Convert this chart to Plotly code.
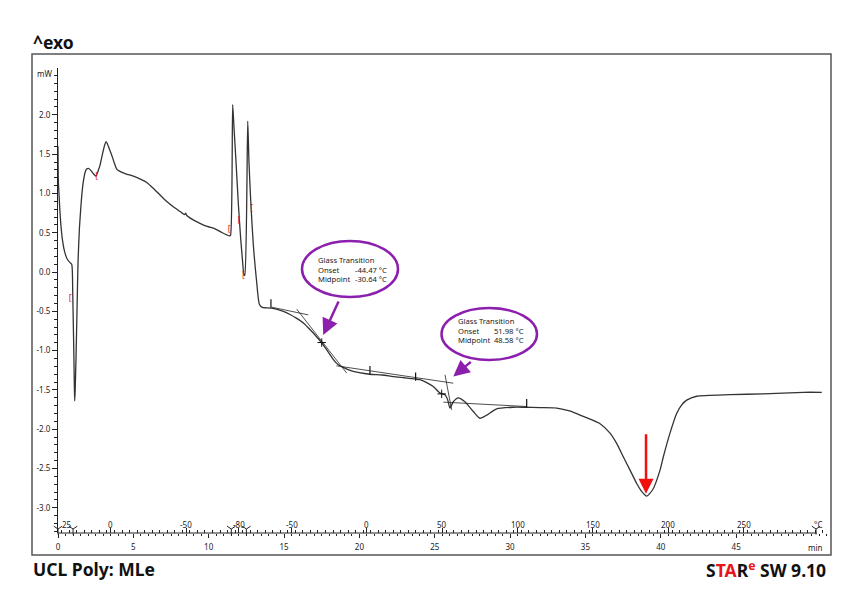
import plotly.graph_objects as go

# ---------------- data ----------------
time_min = [0.00, 0.02, 0.05, 0.13, 0.20, 0.31, 0.45, 0.60, 0.80, 0.91,
            0.95, 0.98, 1.03, 1.06, 1.09, 1.11, 1.14, 1.19, 1.26, 1.33,
            1.42, 1.51, 1.60, 1.68, 1.80, 1.90, 2.01, 2.15, 2.35, 2.52,
            2.65, 2.79, 2.95, 3.10, 3.19, 3.28, 3.40, 3.56, 3.75, 3.90,
            4.11, 4.50, 5.00, 5.50, 5.89, 6.30, 6.77, 7.20, 7.65, 8.10,
            8.40, 8.47, 8.55, 9.00, 9.42, 9.90, 10.42, 10.90, 11.38, 11.45,
            11.59, 11.68, 11.81, 11.97, 12.12, 12.25, 12.34, 12.39, 12.59, 12.67,
            12.79, 12.96, 13.18, 13.36, 13.55, 13.80, 14.18, 14.95, 15.40, 15.84,
            16.30, 16.72, 17.10, 17.50, 17.80, 18.05, 18.30, 18.60, 19.00, 19.38,
            20.00, 20.70, 21.50, 22.25, 23.00, 23.69, 24.02, 24.40, 24.90, 25.35,
            25.68, 25.85, 26.01, 26.23, 26.56, 27.00, 27.56, 28.00, 28.45, 29.11,
            30.21, 30.88, 32.00, 33.09, 34.00, 34.64, 35.30, 35.97, 36.63, 37.07,
            37.51, 37.96, 38.40, 38.73, 39.06, 39.46, 39.95, 40.17, 40.61, 41.05,
            41.39, 41.72, 42.38, 44.59, 46.80, 49.46, 50.68]
heat_flow_mw = [1.60, 1.19, 1.05, 0.77, 0.58, 0.39, 0.25, 0.17, 0.12, 0.10,
                0.02, -0.29, -0.80, -1.14, -1.50, -1.64, -1.50, -1.14, -0.50, 0.13,
                0.55, 0.81, 1.02, 1.15, 1.27, 1.31, 1.32, 1.30, 1.25, 1.22,
                1.28, 1.36, 1.50, 1.62, 1.66, 1.63, 1.57, 1.49, 1.38, 1.31,
                1.28, 1.25, 1.22, 1.18, 1.14, 1.07, 0.98, 0.90, 0.83, 0.77,
                0.73, 0.75, 0.72, 0.66, 0.62, 0.58, 0.55, 0.50, 0.46, 0.47,
                2.13, 1.83, 1.41, 0.86, 0.43, 0.13, -0.04, -0.04, 1.92, 1.41,
                0.90, 0.35, -0.12, -0.41, -0.45, -0.455, -0.46, -0.50, -0.54, -0.59,
                -0.65, -0.73, -0.81, -0.90, -0.98, -1.05, -1.12, -1.18, -1.22, -1.25,
                -1.28, -1.30, -1.31, -1.33, -1.345, -1.36, -1.37, -1.40, -1.457, -1.54,
                -1.56, -1.62, -1.73, -1.65, -1.60, -1.65, -1.775, -1.86, -1.82, -1.74,
                -1.72, -1.72, -1.725, -1.73, -1.77, -1.82, -1.87, -1.93, -2.05, -2.18,
                -2.35, -2.52, -2.69, -2.79, -2.85, -2.77, -2.52, -2.35, -2.05, -1.80,
                -1.69, -1.63, -1.58, -1.56, -1.55, -1.53, -1.53]

# glass-transition tangent lines (time, mW pairs)
tangent_t = [[14.18, 16.61], [15.84, 19.16], [18.48, 26.23], [25.68, 26.12], [25.57, 31.10]]
tangent_mw = [[-0.447, -0.545], [-0.472, -1.286], [-1.193, -1.414], [-1.308, -1.753], [-1.655, -1.711]]

# evaluation limit marks and midpoints
limit_t = [14.13, 20.70, 23.73, 31.10]
limit_mw = [-0.40, -1.25, -1.33, -1.67]
midpoint_t = [17.50, 25.46]
midpoint_mw = [-0.897, -1.55]

# red integration marks
red_t = [0.80, 2.57, 11.35, 12.01, 12.30, 12.85]
red_mw = [-0.341, 1.215, 0.537, 0.651, -0.045, 0.800]

# peak arrow
peak_t = 39.02
peak_mw = -2.82

# axes
min_ticks = [0, 5, 10, 15, 20, 25, 30, 35, 40, 45]
temp_tick_t = [0.0, 3.5, 8.5, 12.0, 15.5, 20.5, 25.5, 30.5, 35.5, 40.5, 45.5]
temp_tick_labels = ["25", "0", "-50", "-80", "-50", "0", "50", "100", "150", "200", "250"]
segment_t = [0.0, 1.0, 11.5, 12.5, 50.3]
y_ticks = [-3.0, -2.5, -2.0, -1.5, -1.0, -0.5, 0.0, 0.5, 1.0, 1.5, 2.0]

gt1_text = ["Glass Transition", "Onset", "Midpoint"]
gt1_vals = ["-44.47 °C", "-30.64 °C"]
gt2_text = ["Glass Transition", "Onset", "Midpoint"]
gt2_vals = ["51.98 °C", "48.58 °C"]

# ---------------- layout geometry ----------------
W, H = 861, 610
L, R, T, B = 58, 34, 68, 77
PW, PH = W - L - R, H - T - B
PX_PER_MIN = 15.07
PX_PER_MW = 78.6
X_MAX = PW / PX_PER_MIN
Y_MIN = -3.32
Y_MAX = Y_MIN + PH / PX_PER_MW


def px(xp):
    return (xp - L) / PW


def py(yp):
    return (H - B - yp) / PH


FONT = "Noto Sans"
SMALL = dict(family=FONT, size=8, color="#222")
BUB = dict(family=FONT, size=7.6, color="#222")
PURPLE = "#8c1fae"
RED = "#f01010"

fig = go.Figure()

# main DSC curve
fig.add_trace(go.Scatter(x=time_min, y=heat_flow_mw, mode="lines",
                         line=dict(color="#333", width=1.3, shape="spline", smoothing=0.6),
                         hoverinfo="skip"))

# tangents
for tt, mm in zip(tangent_t, tangent_mw):
    fig.add_trace(go.Scatter(x=tt, y=mm, mode="lines",
                             line=dict(color="#222", width=0.8), hoverinfo="skip"))

fig.add_trace(go.Scatter(x=limit_t, y=limit_mw, mode="markers",
                         marker=dict(symbol="line-ns", size=6, color="#111",
                                     line=dict(color="#111", width=1.2))))
fig.add_trace(go.Scatter(x=midpoint_t, y=midpoint_mw, mode="markers",
                         marker=dict(symbol="cross-thin", size=6, color="#111",
                                     line=dict(color="#111", width=1))))
fig.add_trace(go.Scatter(x=red_t, y=red_mw, mode="text", text=["["] * len(red_t),
                         textfont=dict(family=FONT, size=8.5, color=RED), hoverinfo="skip"))

# segment boundary marks on the axis
fig.add_trace(go.Scatter(x=segment_t, y=[Y_MIN + 4 / PX_PER_MW] * len(segment_t), mode="markers",
                         cliponaxis=False,
                         marker=dict(symbol="y-down-open", size=7, color="#222",
                                     line=dict(color="#222", width=1))))

# dummy trace for second (temperature) x axis
fig.add_trace(go.Scatter(x=[0], y=[0], xaxis="x2", mode="markers",
                         marker=dict(opacity=0), hoverinfo="skip"))

shapes = []
# outer frame
shapes.append(dict(type="rect", xref="paper", yref="paper",
                   x0=px(32), x1=px(831), y0=py(555), y1=py(54),
                   line=dict(color="#555", width=1.5)))
# bottom axis line
shapes.append(dict(type="line", xref="x", yref="paper", x0=0, x1=50.35, y0=0, y1=0,
                   line=dict(color="#222", width=1)))
# bubbles
shapes.append(dict(type="circle", xref="paper", yref="paper",
                   x0=px(302), x1=px(398), y0=py(297), y1=py(241),
                   line=dict(color=PURPLE, width=2.5), fillcolor="white"))
shapes.append(dict(type="circle", xref="paper", yref="paper",
                   x0=px(441.5), x1=px(537), y0=py(360), y1=py(308),
                   line=dict(color=PURPLE, width=2.5), fillcolor="white"))

ann = []
# bubble texts
for txt, yp in zip(gt1_text, [260, 269.5, 278.5]):
    ann.append(dict(xref="paper", yref="paper", x=px(316), y=py(yp), text=txt,
                    xanchor="left", yanchor="middle", showarrow=False, font=BUB))
for v, yp in zip(gt1_vals, [269.5, 278.5]):
    ann.append(dict(xref="paper", yref="paper", x=px(389), y=py(yp), text=v,
                    xanchor="right", yanchor="middle", showarrow=False, font=BUB))
for txt, yp in zip(gt2_text, [321, 330.5, 339.5]):
    ann.append(dict(xref="paper", yref="paper", x=px(456), y=py(yp), text=txt,
                    xanchor="left", yanchor="middle", showarrow=False, font=BUB))
for v, yp in zip(gt2_vals, [330.5, 339.5]):
    ann.append(dict(xref="paper", yref="paper", x=px(525.5), y=py(yp), text=v,
                    xanchor="right", yanchor="middle", showarrow=False, font=BUB))

# purple arrows
ann.append(dict(x=17.60, y=-0.80, xref="x", yref="y", ax=16, ay=-35, text="",
                showarrow=True, arrowhead=2, arrowsize=1.3, arrowwidth=2.5,
                arrowcolor=PURPLE, standoff=0))
ann.append(dict(x=26.23, y=-1.33, xref="x", yref="y", ax=19, ay=-16, text="",
                showarrow=True, arrowhead=2, arrowsize=1.3, arrowwidth=2.5,
                arrowcolor=PURPLE, standoff=0))
# red peak arrow
ann.append(dict(x=peak_t, y=peak_mw, xref="x", yref="y", ax=0, ay=-61, text="",
                showarrow=True, arrowhead=2, arrowsize=1.2, arrowwidth=2.5,
                arrowcolor=RED, standoff=0))

# temperature labels
for tt, lab in zip(temp_tick_t, temp_tick_labels):
    ann.append(dict(xref="x", yref="paper", x=tt, y=py(524.5), text=lab,
                    xanchor="left" if tt == 0 else "center", yanchor="middle",
                    xshift=2 if tt == 0 else 0, showarrow=False, font=SMALL))
ann.append(dict(xref="paper", yref="paper", x=px(818), y=py(524.5), text="°C",
                xanchor="center", yanchor="middle", showarrow=False, font=SMALL))
ann.append(dict(xref="paper", yref="paper", x=px(815), y=py(547), text="min",
                xanchor="center", yanchor="middle", showarrow=False, font=SMALL))
ann.append(dict(xref="paper", yref="paper", x=px(44), y=py(73), text="mW",
                xanchor="center", yanchor="middle", showarrow=False, font=SMALL))

# titles
BIG = dict(family=FONT, size=17.5, color="#111")
ann.append(dict(xref="paper", yref="paper", x=px(31), y=py(42), text="<b>^exo</b>",
                xanchor="left", yanchor="middle", showarrow=False, font=BIG))
ann.append(dict(xref="paper", yref="paper", x=px(31), y=py(569), text="<b>UCL Poly: MLe</b>",
                xanchor="left", yanchor="middle", showarrow=False, font=BIG))
ann.append(dict(xref="paper", yref="paper", x=px(828), y=py(569),
                text="<b>S<span style='color:#e8141a'>TA</span>R<sup><span style='color:#e8141a'>e</span></sup> SW 9.10</b>",
                xanchor="right", yanchor="middle", showarrow=False, font=BIG))

fig.update_layout(
    width=W, height=H,
    margin=dict(l=L, r=R, t=T, b=B, pad=0),
    paper_bgcolor="white", plot_bgcolor="white",
    showlegend=False,
    shapes=shapes, annotations=ann,
    xaxis=dict(range=[0, X_MAX], showgrid=False, zeroline=False, showline=False,
               tickmode="array", tickvals=min_ticks, ticktext=[str(v) for v in min_ticks],
               ticks="outside", ticklen=4, tickcolor="#222", tickwidth=1,
               ticklabelstandoff=2, tickfont=SMALL,
               minor=dict(tickmode="linear", tick0=0, dtick=0.5, ticks="outside",
                          ticklen=2, tickcolor="#222")),
    xaxis2=dict(range=[0, X_MAX], overlaying="x", anchor="y", side="bottom",
                showgrid=False, zeroline=False, showline=False,
                tickmode="array", tickvals=temp_tick_t, showticklabels=False,
                ticks="inside", ticklen=5, tickcolor="#222", tickwidth=1,
                minor=dict(tickmode="linear", tick0=0.25, dtick=0.5, ticks="inside",
                           ticklen=3, tickcolor="#222")),
    yaxis=dict(range=[Y_MIN, Y_MAX], showgrid=False, zeroline=False,
               showline=True, linecolor="#222", linewidth=1,
               tickmode="array", tickvals=y_ticks, ticktext=[f"{v:.1f}" for v in y_ticks],
               ticks="outside", ticklen=5, tickcolor="#222", tickfont=SMALL,
               minor=dict(tickmode="linear", tick0=0, dtick=0.1, ticks="outside",
                          ticklen=3, tickcolor="#222")),
)

fig.write_html("out.html", config={"displayModeBar": False},
               post_script="document.body.style.margin='0';")
